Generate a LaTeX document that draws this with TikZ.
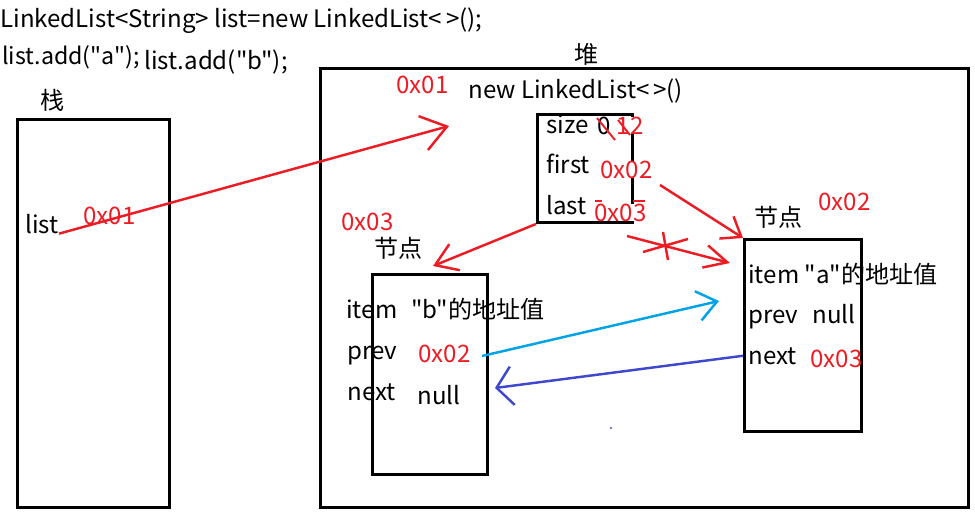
\documentclass[tikz,border=0pt]{standalone}
\usepackage{fontspec}
\newfontfamily\cjk{Noto Sans CJK SC}
\usetikzlibrary{arrows.meta, positioning}
\definecolor{pred}{HTML}{ED1C24}
\definecolor{pcyan}{HTML}{00A2E8}
\definecolor{pblue}{HTML}{3F48CC}

\begin{document}
\begin{tikzpicture}[x=0.02cm, y=-0.02cm,
  every node/.style={inner sep=0pt, anchor=base west, font=\cjk\fontsize{13.7}{16}\selectfont},
  addr/.style={text=pred},
  cover/.style={fill=white},
  box/.style={draw, line width=1.7pt, anchor=north west, font=\normalsize},
  redarr/.style={draw=pred, line width=1.4pt},
  scribble/.style={draw=pred, line width=1.1pt}]
\useasboundingbox (0,0) rectangle (975,514);

% code lines
\node (code) at (0,27) {LinkedList<String> list=new LinkedList<\,>();};
\node[font=\cjk\fontsize{13.2}{16}\selectfont] (adda) at (2,64) {list.add("a");};
\node (addb) at (144,69) {list.add("b");};

% stack
\node (stacklbl) at (40,109) {栈};
\node[box, minimum width=3.04cm, minimum height=7.76cm] (stack) at (16,118) {};
\node (list) at (25,233) {list};
\node[addr] (listaddr) at (83,224) {0x01};

% heap
\node (heaplbl) at (574,63) {堆};
\node[box, minimum width=12.96cm, minimum height=8.78cm] (heap) at (319,67) {};
\node[addr] (objaddr) at (396,93) {0x01};
\node (newobj) at (468,98) {new LinkedList<\,>()};
\node[box, minimum width=1.9cm, minimum height=2.16cm] (obj) at (536,113) {};
\node (size) at (546,133) {size};
\node (size0) at (597,134) {0};
\node[addr] (size1) at (616,134) {1};
\node[addr, cover] (size2) at (630,134) {2};
\node (first) at (546,173) {first};
\node[addr, cover] (firstval) at (600,178) {0x02};
\node (last) at (546,214) {last};
\node[addr, cover] (lastval) at (594,221) {0x03};

% node b
\node[addr] (baddr) at (341,230) {0x03};
\node (blbl) at (374,257) {节点};
\node[box, minimum width=2.3cm, minimum height=4cm] (nodeb) at (371,273) {};
\node (bitem) at (346,318) {item};
\node (bitemval) at (411,318) {"b"的地址值};
\node (bprev) at (347,359) {prev};
\node[addr] (bprevval) at (418,362) {0x02};
\node (bnext) at (347,400) {next};
\node (bnextval) at (417,404) {null};

% node a
\node (albl) at (754,226) {节点};
\node[addr] (aaddr) at (818,210) {0x02};
\node[box, minimum width=2.34cm, minimum height=3.84cm] (nodea) at (743,238) {};
\node (aitem) at (748,283) {item "a"的地址值};
\node (aprev) at (748,323) {prev};
\node (aprevval) at (812,323) {null};
\node (anext) at (748,364) {next};
\node[addr] (anextval) at (810,367) {0x03};

% arrow ends
\coordinate (newptr) at (449,126);
\coordinate (firstfrom) at (660,185);
\coordinate (lastto) at (433,266);
\coordinate (crossfrom) at (627,236);
\coordinate (crossto) at (730,263);
\coordinate (cyanfrom) at (482,356);
\coordinate (cyanto) at (719,301);
\coordinate (blueto) at (495,388);

\draw[redarr, -{Straight Barb[length=14pt,width=20pt]}] (list.south east) -- (newptr);
\draw[redarr, -{Straight Barb[length=10pt,width=15pt]}] (firstfrom) -- (nodea.north west);
\draw[redarr, -{Straight Barb[length=12pt,width=16pt]}] (obj.south west) -- (lastto);
\draw[redarr, -{Straight Barb[length=13pt,width=13pt]}] (crossfrom) -- (crossto);
\draw[redarr] (663,232) -- (668,260);
\draw[redarr] (643,252) -- (688,239);
\draw[pcyan, line width=1.4pt, -{Straight Barb[length=11pt,width=17pt]}] (cyanfrom) -- (cyanto);
\draw[pblue, line width=1.4pt, -{Straight Barb[length=9pt,width=22pt]}] (nodea.west |- anext.west) -- (blueto);
\fill[pblue] (611,428) circle (0.7pt);

% scribbles on size and last
\draw[scribble] (597,118) -- (615,140);
\draw[scribble] (618,120) -- (630,135);
\draw[scribble, line width=0.8pt] (595,201) -- (602,201);
\draw[scribble, line width=0.8pt] (633,201) -- (645,201);
\end{tikzpicture}
\end{document}
